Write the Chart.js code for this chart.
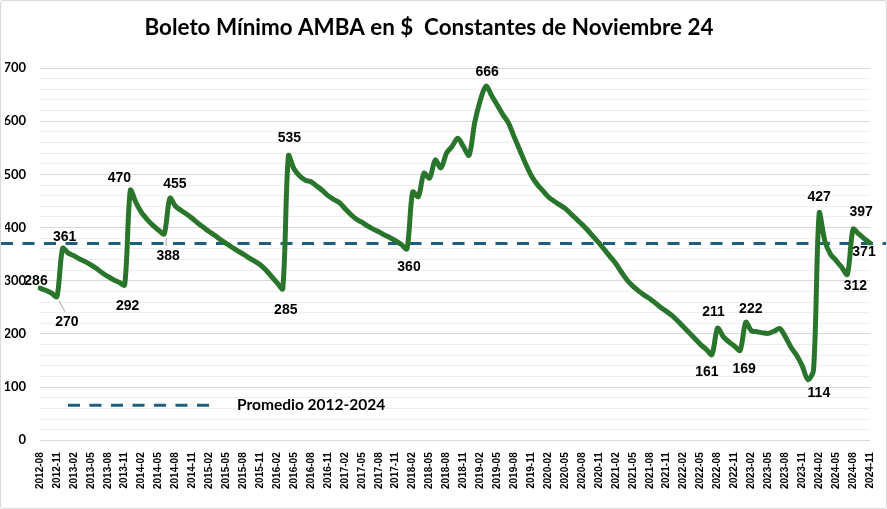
<!DOCTYPE html>
<html lang="es">
<head>
<meta charset="utf-8">
<title>Boleto Mínimo AMBA</title>
<script src="https://cdn.jsdelivr.net/npm/chart.js@4.4.1/dist/chart.umd.min.js"></script>
<style>
  html, body { margin: 0; padding: 0; background: #fff; }
  .wrap { position: relative; width: 887px; height: 509px; box-sizing: border-box; border: 1px solid #d9d9d9; border-radius: 3px; }
  canvas { display: block; }
</style>
</head>
<body>
<div class="wrap"><canvas id="boleto"></canvas></div>
<script>
const TITULO = "Boleto Mínimo AMBA en $  Constantes de Noviembre 24";
const LEYENDA = "Promedio 2012-2024";
const PROMEDIO = 370;

// valores mensuales, ago-2012 a nov-2024
const valores2012 = [286, 282, 277, 270, 361];
const valores2013 = [352, 347, 341, 336, 330, 323, 315, 308, 302, 297, 292, 470];
const valores2014 = [447, 428, 415, 404, 395, 388, 455, 440, 432, 425, 417, 408];
const valores2015 = [400, 392, 385, 377, 370, 363, 356, 350, 343, 337, 330, 320];
const valores2016 = [308, 296, 285, 535, 510, 497, 489, 486, 478, 470, 460, 453];
const valores2017 = [447, 436, 425, 416, 410, 403, 397, 392, 386, 381, 375, 368];
const valores2018 = [360, 467, 458, 502, 493, 527, 512, 540, 553, 568, 552, 536];
const valores2019 = [598, 640, 666, 648, 630, 612, 596, 570, 545, 520, 498, 482];
const valores2020 = [470, 458, 450, 443, 436, 426, 416, 406, 395, 383, 371, 358];
const valores2021 = [345, 332, 316, 301, 290, 281, 273, 266, 258, 249, 242, 234];
const valores2022 = [224, 213, 202, 191, 180, 171, 161, 211, 195, 185, 177, 169];
const valores2023 = [222, 206, 204, 202, 201, 205, 210, 195, 175, 160, 140, 114];
const valores2024 = [132, 427, 375, 350, 338, 325, 312, 397, 388, 379, 371];

const valores = [].concat(valores2012, valores2013, valores2014, valores2015, valores2016,
  valores2017, valores2018, valores2019, valores2020, valores2021, valores2022, valores2023, valores2024);

// meses con etiqueta de dato
const mesesEtiquetados = ["2012-08", "2012-11", "2012-12", "2013-11", "2013-12", "2014-06", "2014-07",
  "2016-03", "2016-04", "2018-01", "2019-03", "2022-07", "2022-08", "2022-12", "2023-01",
  "2023-12", "2024-02", "2024-07", "2024-08", "2024-11"];

const meses = [];
let anio = 2012, mes = 8;
while (anio < 2024 || (anio === 2024 && mes <= 11)) {
  meses.push(anio + "-" + String(mes).padStart(2, "0"));
  mes++;
  if (mes > 12) { mes = 1; anio++; }
}

const VERDE = "#28752B";
const AZUL = "#1F5F7E";

// desplazamiento de cada etiqueta respecto de su punto [dx, dy, linea guia]
const posEtiquetas = [
  [-4, -7], [10, 25, true], [2, -11], [3, 21], [-11, -12], [4, 22, true], [5, -14],
  [3, 21], [1, -18], [2, 18], [1, -14], [-5, 17], [-4, -16], [4, 19], [5, -13],
  [11, 13], [0, -16], [8, 12], [8, -17], [-6, 9]
];

const promedioPlugin = {
  id: "promedio",
  beforeDatasetsDraw(chart) {
    const y = chart.scales.y.getPixelForValue(PROMEDIO);
    const ctx = chart.ctx;
    ctx.save();
    ctx.strokeStyle = AZUL;
    ctx.lineWidth = 3;
    ctx.setLineDash([12, 9.5]);
    ctx.beginPath();
    ctx.moveTo(0, y);
    ctx.lineTo(chart.width, y);
    ctx.stroke();
    ctx.restore();
  }
};

const etiquetasPlugin = {
  id: "etiquetas",
  afterDatasetsDraw(chart) {
    const meta = chart.getDatasetMeta(0);
    const ctx = chart.ctx;
    ctx.save();
    ctx.font = "bold 14px 'Liberation Sans', Arial, sans-serif";
    ctx.fillStyle = "#000";
    ctx.textAlign = "center";
    ctx.textBaseline = "middle";
    mesesEtiquetados.forEach((m, k) => {
      const i = meses.indexOf(m);
      const pt = meta.data[i];
      const [dx, dy, guia] = posEtiquetas[k];
      if (guia) {
        ctx.strokeStyle = "#a6a6a6";
        ctx.lineWidth = 1;
        ctx.beginPath();
        ctx.moveTo(pt.x + 2, pt.y + 4);
        ctx.lineTo(pt.x + dx - 2, pt.y + dy - 10);
        ctx.stroke();
      }
      ctx.fillText(String(valores[i]), pt.x + dx, pt.y + dy);
    });
    ctx.restore();
  }
};

const leyendaPlugin = {
  id: "leyendaInterna",
  afterDraw(chart) {
    const area = chart.chartArea;
    const ctx = chart.ctx;
    const y = area.bottom - 35;
    ctx.save();
    ctx.strokeStyle = AZUL;
    ctx.lineWidth = 3;
    ctx.setLineDash([12, 9.5]);
    ctx.beginPath();
    ctx.moveTo(area.left + 28, y);
    ctx.lineTo(area.left + 175, y);
    ctx.stroke();
    ctx.font = "bold 15.5px Lato, sans-serif";
    ctx.fillStyle = "#000";
    ctx.textBaseline = "middle";
    ctx.fillText(LEYENDA, area.left + 197, y);
    // titulo
    ctx.font = "bold 22.4px Lato, sans-serif";
    ctx.textAlign = "center";
    ctx.fillText(TITULO, 428, 27);
    ctx.restore();
  }
};

const ctx = document.getElementById("boleto").getContext("2d");

new Chart(ctx, {
  type: "line",
  data: {
    labels: meses,
    datasets: [{
      label: "Boleto mínimo",
      data: valores,
      borderColor: VERDE,
      borderWidth: 5,
      borderCapStyle: "round",
      borderJoinStyle: "round",
      pointRadius: 0,
      tension: 0.3,
      fill: false
    }]
  },
  options: {
    responsive: true,
    maintainAspectRatio: false,
    animation: false,
    layout: { padding: { left: 4, right: 11, top: 67, bottom: 15 } },
    plugins: {
      legend: { display: false },
      tooltip: { enabled: false },
      title: { display: false }
    },
    scales: {
      x: {
        grid: { display: false },
        border: { display: false },
        ticks: {
          autoSkip: false,
          minRotation: 90,
          maxRotation: 90,
          padding: 4,
          color: "#000",
          font: { family: "'Liberation Sans', Arial, sans-serif", size: 10, weight: "bold" },
          callback(v, i) { return i % 3 === 0 ? this.getLabelForValue(v) : ""; }
        }
      },
      y: {
        min: 0,
        max: 700,
        border: { display: false },
        afterFit(scale) { scale.width = 35; },
        grid: {
          drawTicks: false,
          lineWidth: 1,
          color: c => (c.tick && c.tick.value % 100 === 0) ? "#d9d9d9" : "#eeeeee"
        },
        ticks: {
          stepSize: 20,
          autoSkip: false,
          padding: 14,
          color: "#000",
          font: { family: "Lato, sans-serif", size: 13, weight: "bold" },
          callback: v => (v % 100 === 0 ? v : "")
        }
      }
    }
  },
  plugins: [promedioPlugin, etiquetasPlugin, leyendaPlugin]
});
</script>
</body>
</html>
